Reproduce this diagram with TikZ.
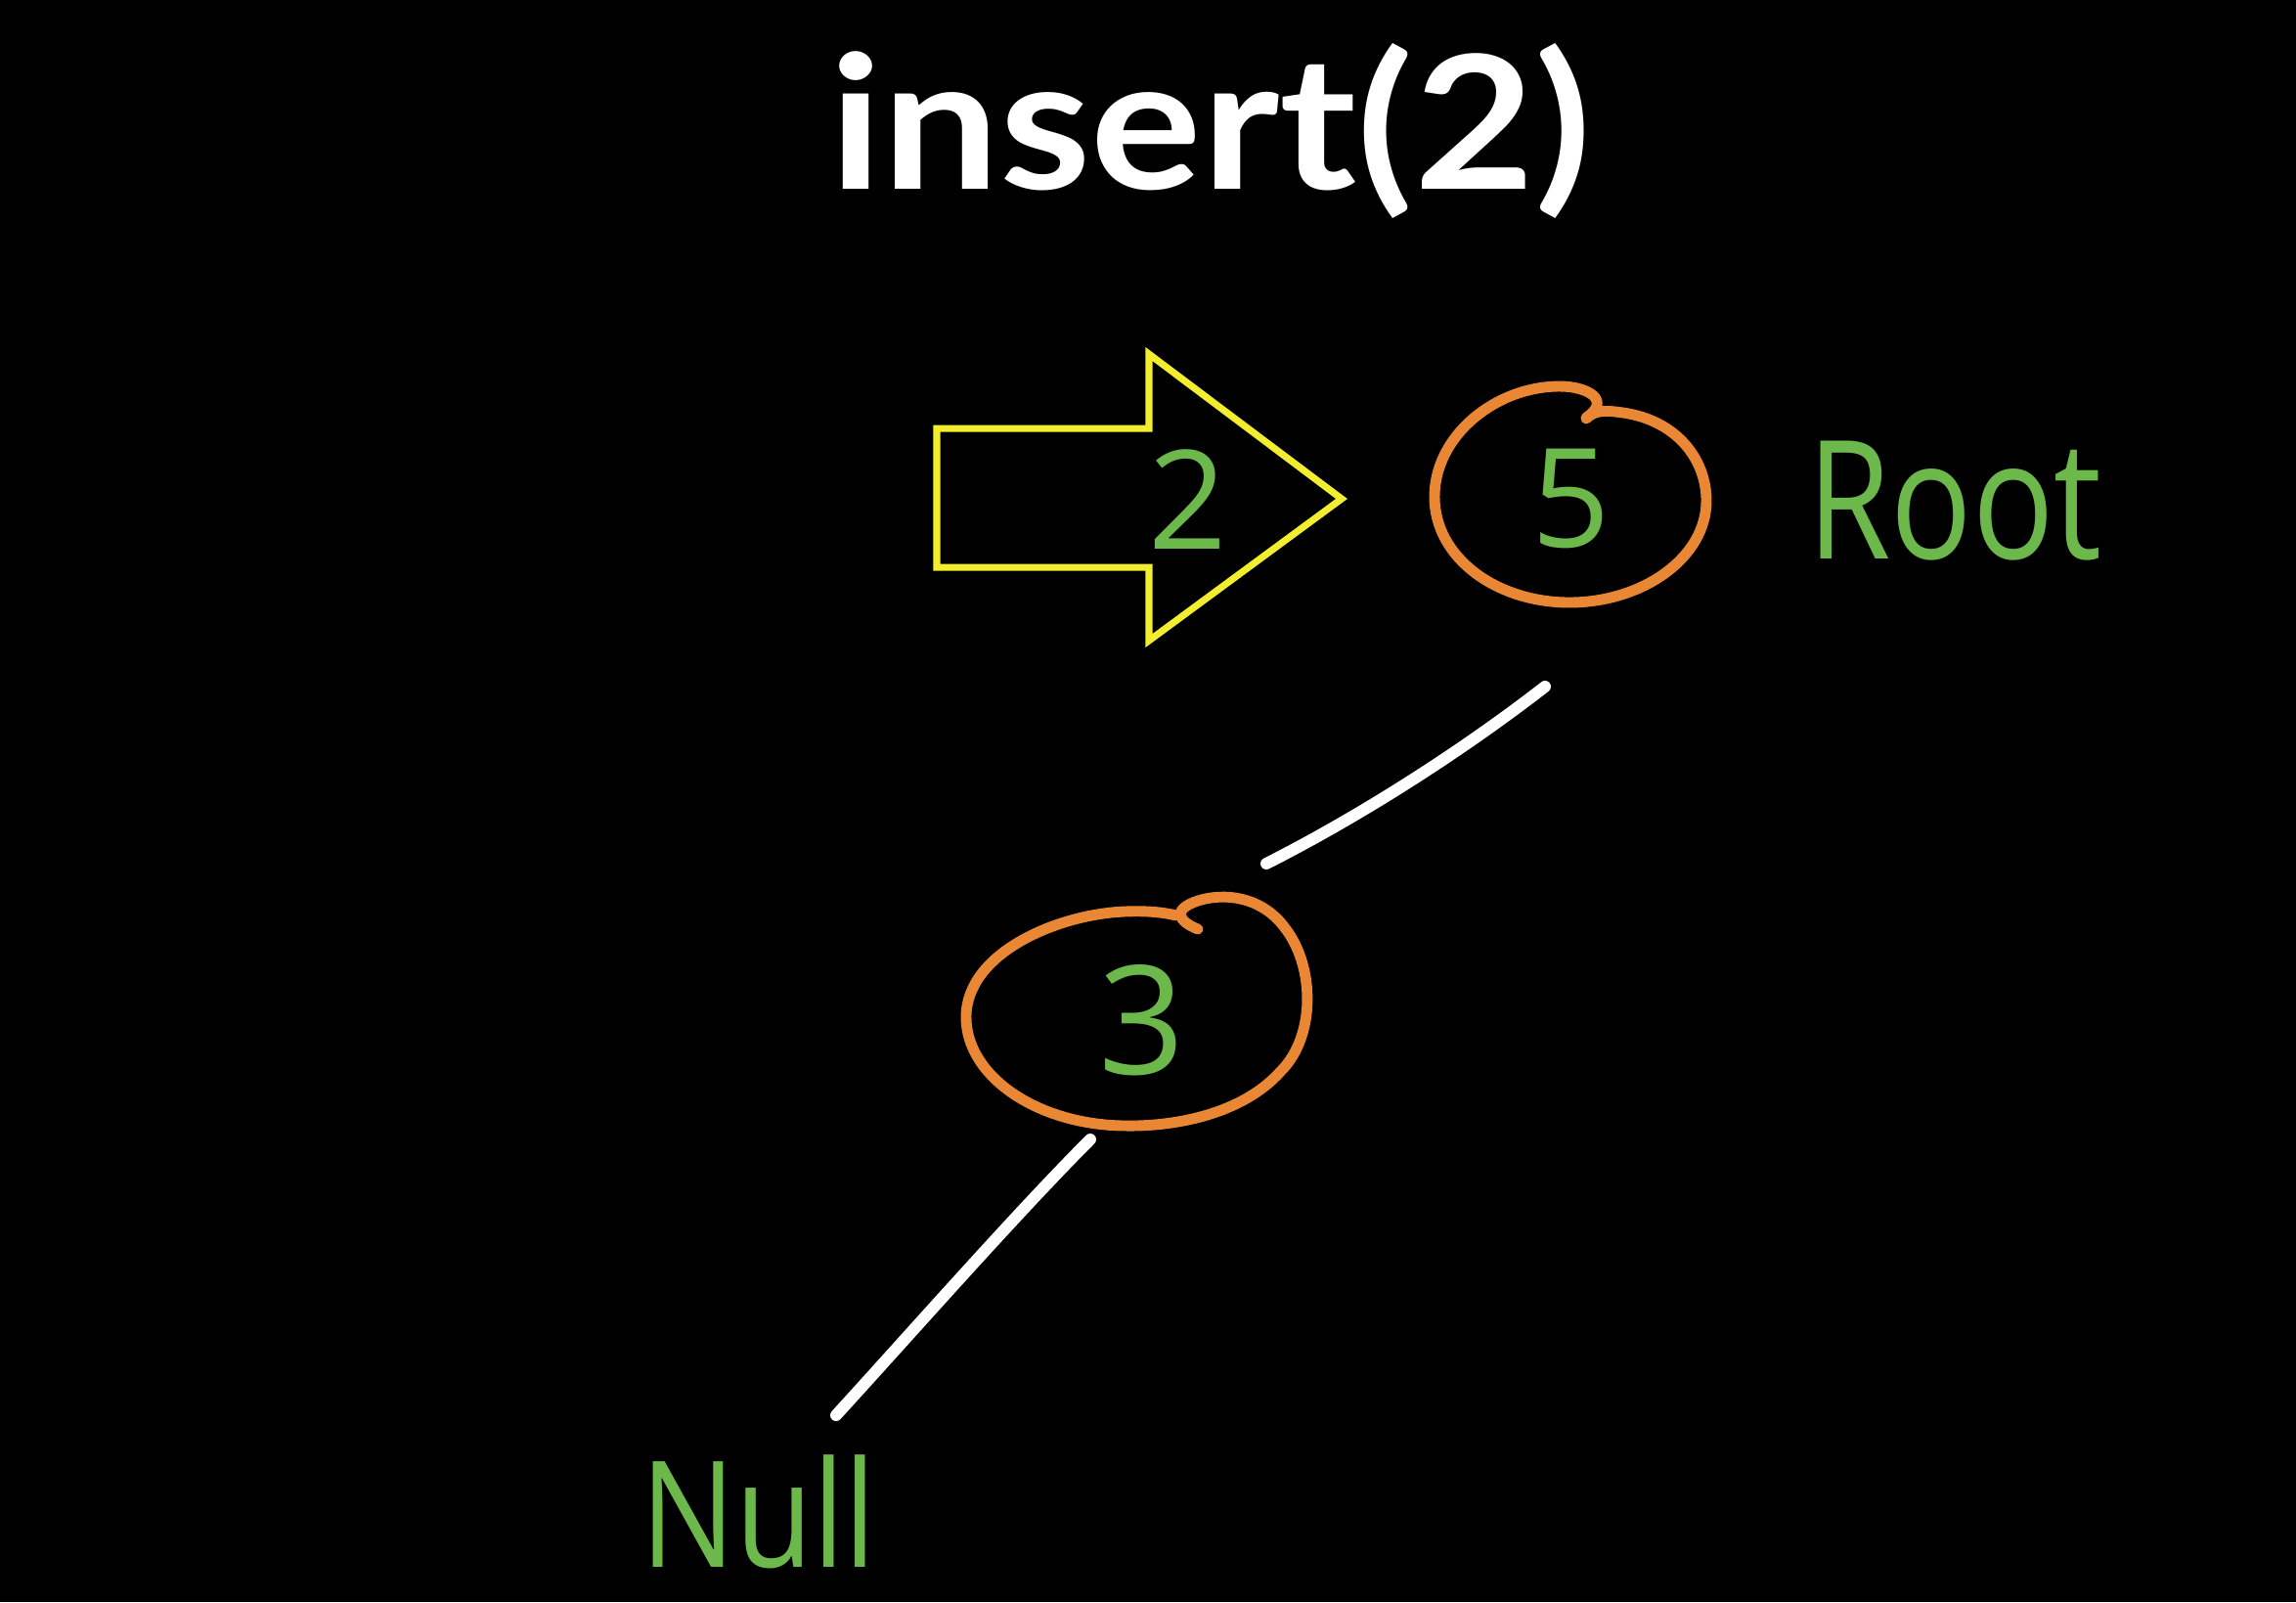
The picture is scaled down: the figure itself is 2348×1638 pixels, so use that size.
\documentclass[tikz,border=0pt]{standalone}
\usepackage{fontspec}
\setmainfont{Lato}
\newfontfamily\handfont{Open Sans}
\definecolor{hgreen}{RGB}{108,184,74}
\definecolor{horange}{RGB}{233,135,52}
\definecolor{hyellow}{RGB}{243,238,45}
\tikzset{
  edgeline/.style={white, line width=3.4pt, line cap=round},
  ringline/.style={horange, line width=3.1pt, line cap=round, line join=round},
  arrowbox/.style={hyellow, line width=2pt, line join=miter},
  digit/.style={text=hgreen, inner sep=0pt, font=\handfont\fontsize{40}{40}\selectfont},
  word/.style={text=hgreen, inner sep=0pt, font=\handfont\fontsize{48}{48}\selectfont},
}
\begin{document}
\begin{tikzpicture}[x=0.01cm,y=-0.01cm]
\fill[black] (0,0) rectangle (2348,1638);
\useasboundingbox (0,0) rectangle (2348,1638);

% title
\node[anchor=base, text=white, inner sep=0pt, font=\bfseries\fontsize{54}{54}\selectfont] (title) at (1238,193) {\scalebox{1.12}[1]{insert(2)}};

% yellow arrow
\draw[arrowbox] (958,438) -- (1175,438) -- (1175,362) -- (1372,510) -- (1175,655) -- (1175,580) -- (958,580) -- cycle;
\node[digit] (d2) at (1215,511) {2};

% root node 5 (hand-drawn ring)
\draw[ringline] (1622,428) .. controls (1632,418) and (1645,420) .. (1660,422)
  .. controls (1715,430) and (1745,470) .. (1745,512)
  .. controls (1745,570) and (1680,616) .. (1605,616)
  .. controls (1530,616) and (1467,570) .. (1467,508)
  .. controls (1467,445) and (1530,395) .. (1595,395)
  .. controls (1625,395) and (1648,410) .. (1622,427);
\node[digit] (n5) at (1607,510) {5};
\node[word] (root) at (1999,512) {\scalebox{0.82}[1]{Root}};

% node 3 (hand-drawn ring)
\draw[ringline] (1225,950) .. controls (1205,942) and (1198,930) .. (1225,921)
  .. controls (1250,913) and (1290,915) .. (1315,950)
  .. controls (1345,990) and (1345,1060) .. (1310,1095)
  .. controls (1270,1140) and (1200,1152) .. (1150,1151)
  .. controls (1060,1150) and (988,1100) .. (988,1040)
  .. controls (988,975) and (1080,935) .. (1150,932)
  .. controls (1175,931) and (1190,933) .. (1203,936);
\node[digit, font=\handfont\fontsize{44}{44}\selectfont] (n3) at (1168,1043) {3};

% null
\node[word, font=\handfont\fontsize{43}{43}\selectfont] (null) at (776,1546) {\scalebox{0.85}[1]{Null}};

% connectors
\coordinate (e1s) at (1580,702);
\coordinate (e1t) at (1295,883);
\coordinate (e2s) at (1115,1165);
\coordinate (e2t) at (855,1447);
\draw[edgeline] (e1s) .. controls (1495,768) and (1390,835) .. (e1t);
\draw[edgeline] (e2s) .. controls (1040,1240) and (930,1365) .. (e2t);
\end{tikzpicture}
\end{document}
